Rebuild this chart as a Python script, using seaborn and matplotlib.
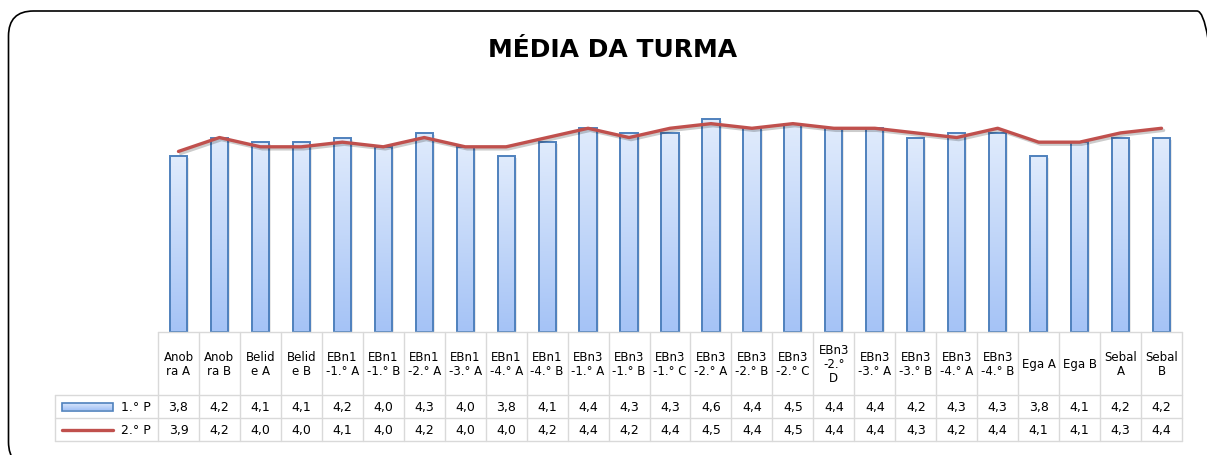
import numpy as np
import matplotlib
matplotlib.use("Agg")
import matplotlib.pyplot as plt
import matplotlib.patheffects as pe
import seaborn as sns
from matplotlib.patches import Rectangle, FancyBboxPatch
from matplotlib.colors import LinearSegmentedColormap
from matplotlib.transforms import IdentityTransform, offset_copy

sns.set_style("white")
plt.rcParams['font.family'] = ['DejaVu Sans']
plt.rcParams['text.color'] = 'black'

# --- data (from the chart's data table) ---
turmas = ["Anob\nra A", "Anob\nra B", "Belid\ne A", "Belid\ne B",
          "EBn1\n-1.° A", "EBn1\n-1.° B", "EBn1\n-2.° A", "EBn1\n-3.° A",
          "EBn1\n-4.° A", "EBn1\n-4.° B", "EBn3\n-1.° A", "EBn3\n-1.° B",
          "EBn3\n-1.° C", "EBn3\n-2.° A", "EBn3\n-2.° B", "EBn3\n-2.° C",
          "EBn3\n-2.°\nD", "EBn3\n-3.° A", "EBn3\n-3.° B", "EBn3\n-4.° A",
          "EBn3\n-4.° B", "Ega A", "Ega B", "Sebal\nA", "Sebal\nB"]
p1 = [3.8, 4.2, 4.1, 4.1, 4.2, 4.0, 4.3, 4.0, 3.8, 4.1, 4.4, 4.3, 4.3,
      4.6, 4.4, 4.5, 4.4, 4.4, 4.2, 4.3, 4.3, 3.8, 4.1, 4.2, 4.2]
p2 = [3.9, 4.2, 4.0, 4.0, 4.1, 4.0, 4.2, 4.0, 4.0, 4.2, 4.4, 4.2, 4.4,
      4.5, 4.4, 4.5, 4.4, 4.4, 4.3, 4.2, 4.4, 4.1, 4.1, 4.3, 4.4]
series = ["1.° P", "2.° P"]

BAR_EDGE = "#4f81bd"
LINE_COLOR = "#c0504d"
GRID = "#d9d9d9"
bar_cmap = LinearSegmentedColormap.from_list("bar", ["#a5c3f6", "#e0ebfc"])

# layout in pixels
W, H = 1207, 456
x0, x1 = 158, 1182          # category columns
base, top = 333, 101.5      # bar baseline and value 5.0
leg_x = 55
rows = [333, 396, 419, 442]
n = len(turmas)
colw = (x1 - x0) / n

fig = plt.figure(figsize=(W / 100, H / 100), dpi=100)


def fy(py):
    return 1 - py / H


ax = fig.add_axes([x0 / W, fy(base), (x1 - x0) / W, (base - top) / H])

sns.barplot(x=turmas, y=p1, ax=ax, color="#c5d9f8", width=0.42,
            edgecolor=BAR_EDGE, linewidth=1.4, saturation=1)

grad = np.linspace(0, 1, 100).reshape(-1, 1)
shadow_tr = offset_copy(ax.transData, fig=fig, x=2, y=-2, units='dots')
for bar in list(ax.patches):
    bx, by = bar.get_x(), bar.get_y()
    bw, bh = bar.get_width(), bar.get_height()
    bar.set_facecolor("none")
    bar.set_zorder(3)
    img = ax.imshow(grad, extent=[bx, bx + bw, by, by + bh], origin='lower',
                    aspect='auto', cmap=bar_cmap, zorder=2)
    img.set_clip_path(bar)
    ax.add_patch(Rectangle((bx, by), bw, bh, transform=shadow_tr,
                           fc="gray", alpha=0.18, lw=0, zorder=1))

sns.lineplot(x=turmas, y=p2, ax=ax, sort=False, color=LINE_COLOR,
             linewidth=2.4, zorder=4,
             path_effects=[pe.SimpleLineShadow(offset=(1.5, -1.5), alpha=0.2),
                           pe.Normal()])

ax.set_xlim(-0.5, n - 0.5)
ax.set_ylim(0, 5)
ax.axis('off')

# --- data table under the chart ---
tab = fig.add_axes([leg_x / W, fy(rows[-1]), (x1 - leg_x) / W,
                    (rows[-1] - rows[0]) / H])
tab.set_xlim(leg_x, x1)
tab.set_ylim(rows[-1], rows[0])
tab.axis('off')

edges = [x0 + i * colw for i in range(n + 1)]
for ex in edges:
    tab.plot([ex, ex], [rows[0], rows[-1]], color=GRID, lw=1, clip_on=False)
tab.plot([leg_x, leg_x], [rows[1], rows[-1]], color=GRID, lw=1, clip_on=False)
tab.plot([x0, x1], [rows[0], rows[0]], color=GRID, lw=1, clip_on=False)
for ry in rows[1:]:
    tab.plot([leg_x, x1], [ry, ry], color=GRID, lw=1, clip_on=False)

for i, (lab, a, b) in enumerate(zip(turmas, p1, p2)):
    cx = x0 + (i + 0.5) * colw
    tab.text(cx, (rows[0] + rows[1]) / 2, lab, ha='center', va='center',
             fontsize=8.5, linespacing=1.1)
    tab.text(cx, (rows[1] + rows[2]) / 2, f"{a:.1f}".replace('.', ','),
             ha='center', va='center', fontsize=9)
    tab.text(cx, (rows[2] + rows[3]) / 2, f"{b:.1f}".replace('.', ','),
             ha='center', va='center', fontsize=9)

# legend keys inside the table
ky1 = (rows[1] + rows[2]) / 2
ky2 = (rows[2] + rows[3]) / 2
key = Rectangle((62, ky1 - 4), 51, 8, fc="none", ec=BAR_EDGE, lw=1.2, zorder=3)
tab.add_patch(key)
kimg = tab.imshow(grad[::-1], extent=[62, 113, ky1 + 4, ky1 - 4],
                  aspect='auto', cmap=bar_cmap, zorder=2)
kimg.set_clip_path(key)
tab.plot([62, 113], [ky2, ky2], color=LINE_COLOR, lw=2.4)
tab.text(151, ky1, series[0], ha='right', va='center', fontsize=9)
tab.text(151, ky2, series[1], ha='right', va='center', fontsize=9)
tab.set_xlim(leg_x, x1)
tab.set_ylim(rows[-1], rows[0])

# title and rounded chart border
fig.text(613 / W, fy(50), "MÉDIA DA TURMA", ha='center', va='center',
         fontsize=18, fontweight='bold')
border = FancyBboxPatch((8.5, -12), 1213.5, 456,
                        boxstyle="round,pad=0,rounding_size=25",
                        transform=IdentityTransform(), fill=False,
                        ec="black", lw=1.2)
fig.add_artist(border)

fig.savefig("out.png", dpi=100)
